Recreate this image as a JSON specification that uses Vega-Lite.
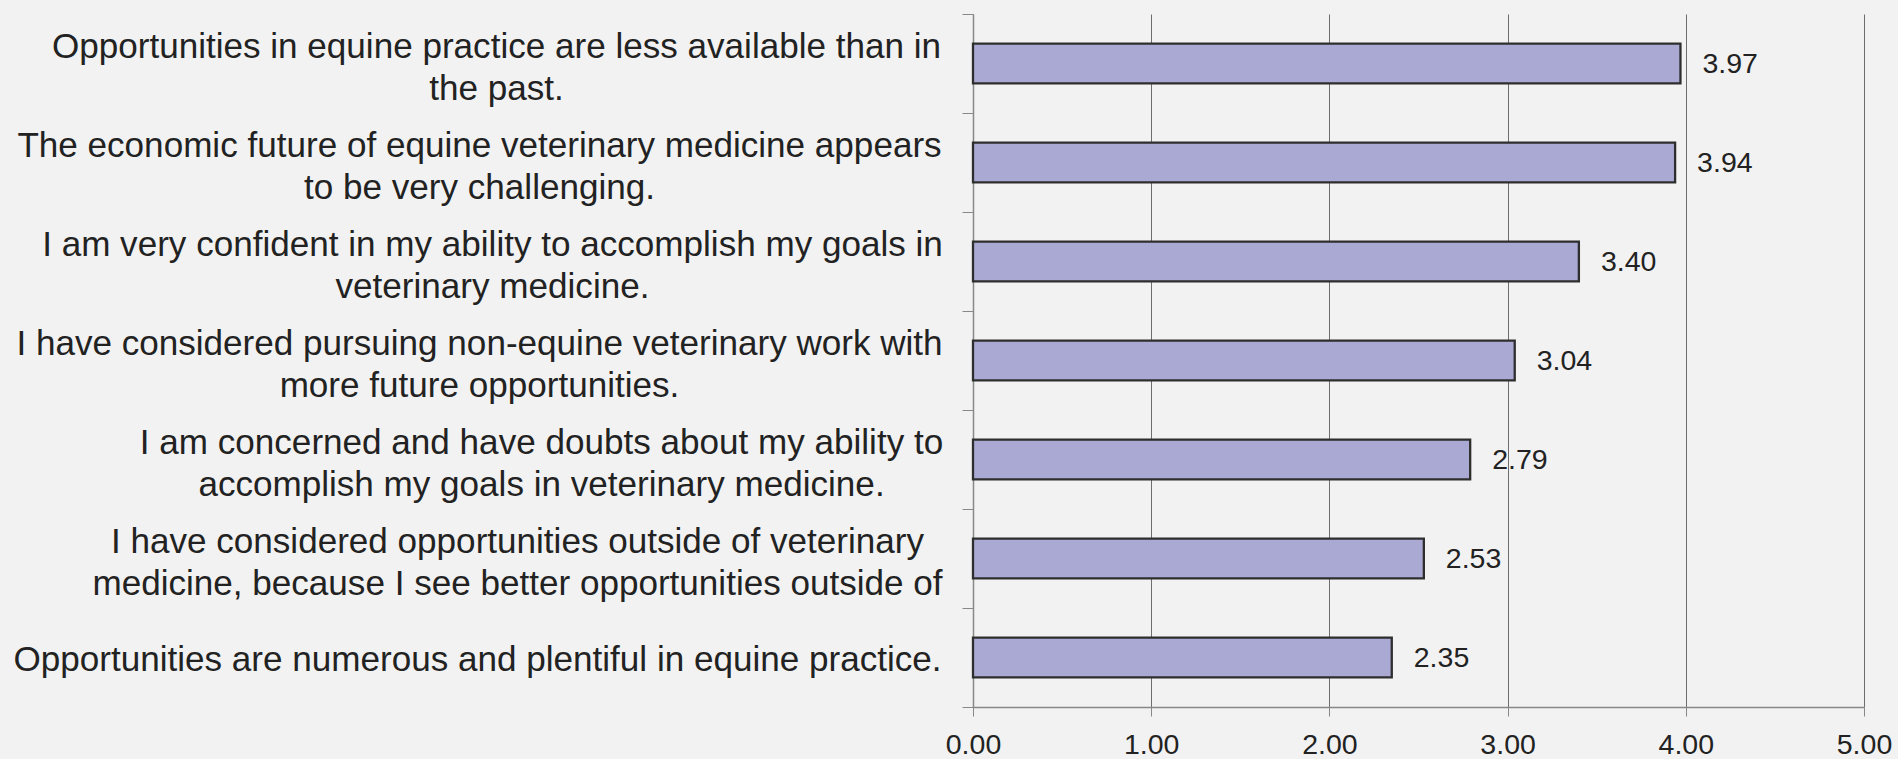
{
  "$schema": "https://vega.github.io/schema/vega-lite/v6.json",
  "autosize": "none",
  "width": 891,
  "height": 693,
  "padding": {"left": 973, "top": 14, "right": 34, "bottom": 52},
  "background": "#f2f2f2",
  "config": {"view": {"stroke": null}, "font": "Liberation Sans"},
  "data": {"values": [
    {"statement": "Opportunities in equine practice are less available than in|the past.", "mean": 3.97},
    {"statement": "The economic future of equine veterinary medicine appears|to be very challenging.", "mean": 3.94},
    {"statement": "I am very confident in my ability to accomplish my goals in|veterinary medicine.", "mean": 3.40},
    {"statement": "I have considered pursuing non-equine veterinary work with|more future opportunities.", "mean": 3.04},
    {"statement": "I am concerned and have doubts about my ability to|accomplish my goals in veterinary medicine.", "mean": 2.79},
    {"statement": "I have considered opportunities outside of veterinary|medicine, because I see better opportunities outside of", "mean": 2.53},
    {"statement": "Opportunities are numerous and plentiful in equine practice.", "mean": 2.35}
  ]},
  "encoding": {
    "y": {
      "field": "statement", "type": "nominal", "sort": null,
      "scale": {"paddingInner": 0, "paddingOuter": 0},
      "axis": {
        "title": null,
        "bandPosition": 1,
        "tickExtra": true,
        "tickSize": 11,
        "tickColor": "#888888",
        "domainColor": "#888888",
        "domainWidth": 1.5,
        "labelExpr": "split(datum.label, '|')",
        "labelAlign": "center",
        "labelBaseline": "middle",
        "labelFont": "Liberation Sans",
        "labelFontSize": 35.1,
        "labelLineHeight": 42,
        "labelColor": "#222222",
        "labelLimit": 0,
        "labelPadding": 21,
        "encoding": {
          "labels": {
            "dx": {
              "condition": [
                {"test": "isString(datum.value) && test(/the past/, datum.value)", "value": -445},
                {"test": "isString(datum.value) && test(/appears/, datum.value)", "value": -462},
                {"test": "isString(datum.value) && test(/confident/, datum.value)", "value": -449},
                {"test": "isString(datum.value) && test(/non-equine/, datum.value)", "value": -462},
                {"test": "isString(datum.value) && test(/doubts/, datum.value)", "value": -400},
                {"test": "isString(datum.value) && test(/because/, datum.value)", "value": -424}
              ],
              "value": -464
            },
            "dy": {
              "condition": {"test": "isString(datum.value) && test(/[|]/, datum.value)", "value": -17},
              "value": 2
            }
          }
        }
      }
    },
    "x": {
      "field": "mean", "type": "quantitative",
      "scale": {"domain": [0, 5], "nice": false, "zero": true},
      "axis": {
        "title": null,
        "values": [0, 1, 2, 3, 4, 5],
        "format": ".2f",
        "grid": true,
        "gridColor": "#6e6e6e",
        "gridWidth": 1,
        "domainColor": "#888888",
        "domainWidth": 1.5,
        "tickColor": "#888888",
        "tickSize": 9,
        "labelFont": "Liberation Sans",
        "labelFontSize": 28.5,
        "labelColor": "#222222",
        "labelPadding": 14,
        "labelFlush": false
      }
    }
  },
  "layer": [
    {
      "mark": {"type": "bar", "height": {"band": 0.4}, "fill": "#aaa9d4", "stroke": "#2e2e2e", "strokeWidth": 2.3}
    },
    {
      "mark": {"type": "text", "align": "left", "baseline": "middle", "dx": 22, "fontSize": 28.5, "font": "Liberation Sans", "color": "#222222"},
      "encoding": {"text": {"field": "mean", "type": "quantitative", "format": ".2f"}}
    }
  ]
}
